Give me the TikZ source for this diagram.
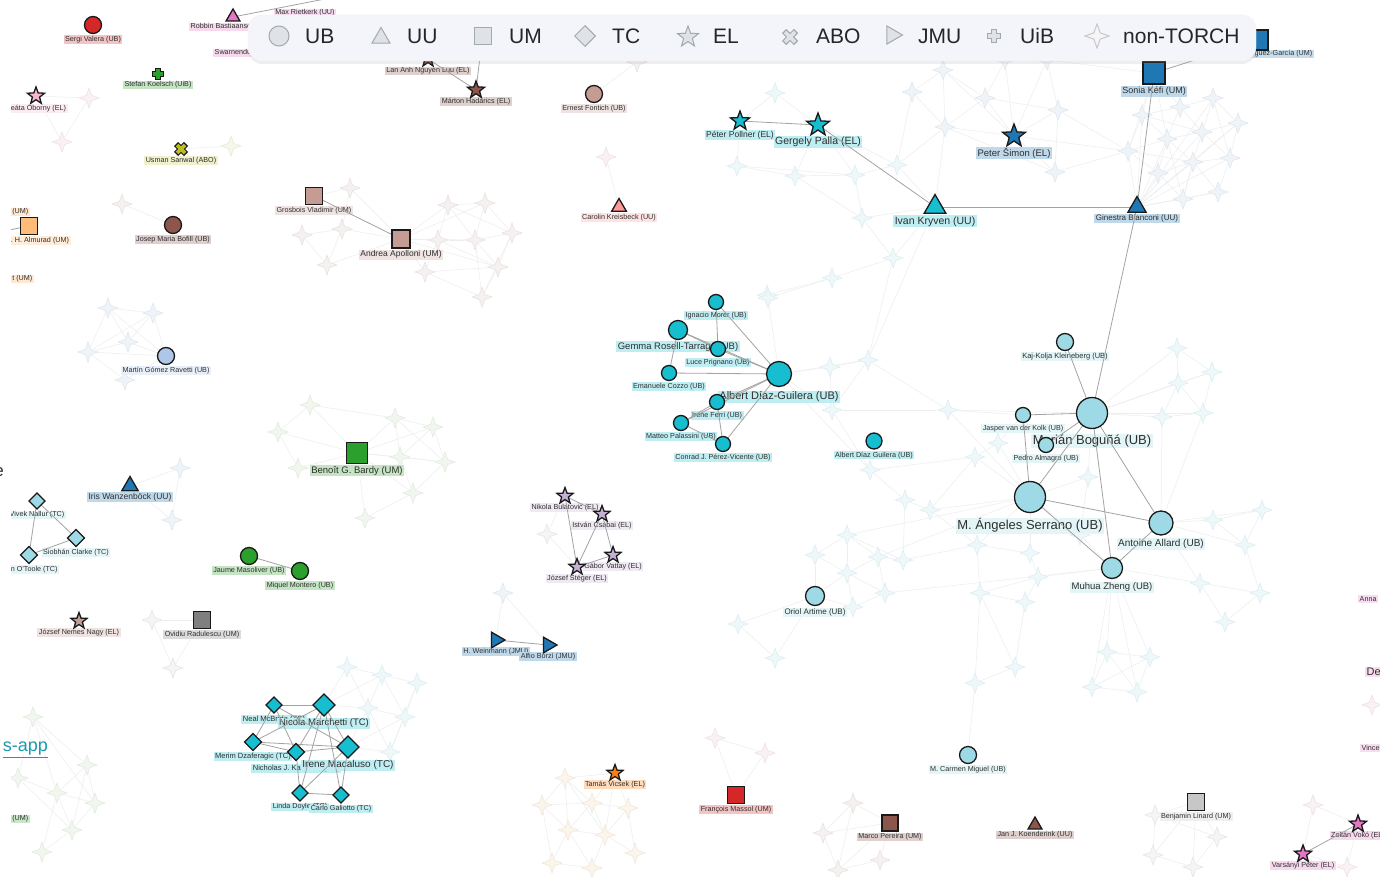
\documentclass[tikz,border=0pt]{standalone}
\usepackage{fontspec}
\setmainfont{Liberation Sans}
\usetikzlibrary{shapes.geometric,shadows}
\definecolor{cTeal}{HTML}{17BECF}
\definecolor{cLTeal}{HTML}{9EDAE5}
\definecolor{cBlue}{HTML}{1F77B4}
\definecolor{cLBlue}{HTML}{AEC7E8}
\definecolor{cGreen}{HTML}{2CA02C}
\definecolor{cRed}{HTML}{D62728}
\definecolor{cSalmon}{HTML}{FF9896}
\definecolor{cBrown}{HTML}{8C564B}
\definecolor{cLBrown}{HTML}{C49C94}
\definecolor{cPink}{HTML}{E377C2}
\definecolor{cLPink}{HTML}{F7B6D2}
\definecolor{cGray}{HTML}{7F7F7F}
\definecolor{cLGray}{HTML}{C7C7C7}
\definecolor{cOlive}{HTML}{BCBD22}
\definecolor{cOrange}{HTML}{FF7F0E}
\definecolor{cLOrange}{HTML}{FFBB78}
\definecolor{cLav}{HTML}{C5B0D5}
\definecolor{legFill}{HTML}{F4F4FB}
\definecolor{legSym}{HTML}{DFE3E6}
\definecolor{legLine}{HTML}{A3A9AD}
\definecolor{edgeC}{HTML}{A3A3A3}
\definecolor{fEdge}{HTML}{ECEDED}
\definecolor{linkC}{HTML}{1B9AAE}
\definecolor{tTf}{HTML}{EEF8FA}\definecolor{tTd}{HTML}{DDEEF1}
\definecolor{tBf}{HTML}{EFF4F9}\definecolor{tBd}{HTML}{E0E7EF}
\definecolor{tGf}{HTML}{F1F7EF}\definecolor{tGd}{HTML}{E1ECDF}
\definecolor{tRf}{HTML}{F5F1F0}\definecolor{tRd}{HTML}{E9E2E0}
\definecolor{tOf}{HTML}{FCF5EC}\definecolor{tOd}{HTML}{F2E7DA}
\definecolor{tPf}{HTML}{FAF1F3}\definecolor{tPd}{HTML}{EFE1E5}
\definecolor{tYf}{HTML}{F6F7EA}\definecolor{tYd}{HTML}{E8EBD6}
\definecolor{tKf}{HTML}{F5F5F5}\definecolor{tKd}{HTML}{E6E6E6}
\pgfdeclarelayer{bg}
\pgfdeclarelayer{fedges}
\pgfdeclarelayer{faint}
\pgfdeclarelayer{labels}
\pgfdeclarelayer{edges}
\pgfdeclarelayer{top}
\pgfsetlayers{bg,fedges,faint,labels,edges,main,top}
\newcommand\fs[1]{\fontsize{#1}{#1}\selectfont}
\newcommand\pp[8][1.5pt]{%
  \node[#4, fill=#5, minimum size=#6pt] (#2) at (#3) {};
  \begin{pgfonlayer}{labels}
    \node[lab, fill=#5!28, font=\fs{#8}, anchor=north] (#2-l) at ([yshift=-#1]#2.south) {#7};
  \end{pgfonlayer}}
\newcommand\ft[3]{\node[nt, #3] (#1) at (#2) {};}
\newcommand\xmk[5]{%
  \node[inner sep=0pt, minimum size=12pt] (#1) at (#2) {};
  \draw[#4, line width=6pt] ([shift={(-#3,-#3)}]#1.center) -- ([shift={(#3,#3)}]#1.center)
        ([shift={(-#3,#3)}]#1.center) -- ([shift={(#3,-#3)}]#1.center);
  \draw[#5, line width=3.6pt] ([shift={(-#3+1pt,-#3+1pt)}]#1.center) -- ([shift={(#3-1pt,#3-1pt)}]#1.center)
        ([shift={(-#3+1pt,#3-1pt)}]#1.center) -- ([shift={(#3-1pt,-#3+1pt)}]#1.center);}
\newcommand\plmk[5]{%
  \node[inner sep=0pt, minimum size=12pt] (#1) at (#2) {};
  \draw[#4, line width=6pt] ([xshift=-#3]#1.center) -- ([xshift=#3]#1.center)
        ([yshift=-#3]#1.center) -- ([yshift=#3]#1.center);
  \draw[#5, line width=3.8pt] ([xshift=-#3+1pt]#1.center) -- ([xshift=#3-1pt]#1.center)
        ([yshift=-#3+1pt]#1.center) -- ([yshift=#3-1pt]#1.center);}
\begin{document}
\begin{tikzpicture}[x=1pt,y=-1pt,
  base/.style={draw=black!90, line width=1.3pt, inner sep=0pt, outer sep=0pt},
  ub/.style={base,circle}, um/.style={base,rectangle}, tc/.style={base,diamond,aspect=1},
  uu/.style={base,regular polygon,regular polygon sides=3},
  jmu/.style={uu,regular polygon rotate=-90},
  el/.style={base,star,star points=5,star point ratio=2.4},
  lab/.style={inner xsep=1.5pt,inner ysep=1pt,text=black!82},
  nt/.style={star,star points=4,star point ratio=2.7,minimum size=20pt,inner sep=0pt,line width=0.6pt},
  tT/.style={fill=tTf,draw=tTd}, tB/.style={fill=tBf,draw=tBd}, tG/.style={fill=tGf,draw=tGd},
  tR/.style={fill=tRf,draw=tRd}, tO/.style={fill=tOf,draw=tOd}, tP/.style={fill=tPf,draw=tPd},
  tY/.style={fill=tYf,draw=tYd}, tK/.style={fill=tKf,draw=tKd},
  ed/.style={draw=edgeC,line width=0.8pt},
  fe/.style={draw=fEdge,line width=0.5pt},
  lsym/.style={draw=legLine,fill=legSym,line width=1pt,inner sep=0pt},
  ltxt/.style={anchor=west,font=\fs{21},text=black!85,inner sep=0pt}]
\clip (0,0) rectangle (1380,877);
\begin{pgfonlayer}{bg}
\fill[white] (0,0) rectangle (1380,877);
\end{pgfonlayer}
% ---------------- main nodes ----------------
\pp{sergi}{93,25}{ub}{cRed}{17}{Sergi Valera (UB)}{7.2}
\node[uu, fill=cPink, minimum size=16pt] (robbin) at (233,17) {};
\coordinate (max) at (330,-2);
\begin{pgfonlayer}{labels}
\node[lab, fill=cPink!28, font=\fs{7.2}, anchor=west] (robbin-l) at (189,27) {Robbin Bastiaansen (UU)};
\node[lab, fill=cPink!28, font=\fs{7.2}] (max-l) at (305,13) {Max Rietkerk (UU)};
\node[lab, fill=cPink!28, font=\fs{7.2}, anchor=west] (swarn-l) at (213,53) {Swarnendu Banerjee (UU)};
\node[lab, fill=cLOrange!35, font=\fs{7.2}, anchor=east] (um1-l) at (30,212) {(UM)};
\node[lab, fill=cLOrange!35, font=\fs{7.2}, anchor=east] (um2-l) at (34,279) {t (UM)};
\node[lab, fill=cGreen!25, font=\fs{7.2}, anchor=east] (um3-l) at (30,819) {(UM)};
\node[lab, fill=cPink!25, font=\fs{7.2}, anchor=west] (anna-l) at (1358,599) {Anna};
\node[lab, fill=cPink!25, font=\fs{11}, anchor=west] (de-l) at (1365,672) {De};
\node[lab, fill=cPink!25, font=\fs{7.2}, anchor=west] (vince-l) at (1360,748) {Vince};
\end{pgfonlayer}
\pp[4pt]{lananh}{428,59}{el}{cBrown}{17}{Lan Anh Nguyen Luu (EL)}{7.2}
\pp[3pt]{marton}{476,90}{el}{cBrown}{18}{Márton Hadarics (EL)}{7.2}
\coordinate (mup) at (482,40);
\plmk{stefan}{158,74}{6pt}{black!90}{cGreen}
\begin{pgfonlayer}{labels}
\node[lab, fill=cGreen!28, font=\fs{7.2}, anchor=north] (stefan-l) at (158,80.5) {Stefan Koelsch (UiB)};
\end{pgfonlayer}
\pp[4pt]{oborny}{36,96}{el}{cLPink}{18}{Beáta Oborny (EL)}{7.2}
\xmk{usman}{181,149}{5pt}{black!90}{cOlive}
\begin{pgfonlayer}{labels}
\node[lab, fill=cOlive!22, font=\fs{7.2}, anchor=north] (usman-l) at (181,156) {Usman Sanwal (ABO)};
\end{pgfonlayer}
\pp{almurad}{29,226}{um}{cLOrange}{17}{Zied M. H. Almurad (UM)}{7.2}
\coordinate (almw) at (-20,236);
\pp{bofill}{173,225}{ub}{cBrown}{17}{Josep Maria Bofill (UB)}{7.2}
\pp{grosbois}{314,196}{um}{cLBrown}{17}{Grosbois Vladimir (UM)}{7.2}
\pp{apolloni}{401,239}{um}{cLBrown}{18}{Andrea Apolloni (UM)}{8.5}
\pp{ernest}{594,94}{ub}{cLBrown}{17}{Ernest Fontich (UB)}{7.2}
\pp{carolin}{619,207}{uu}{cSalmon}{17}{Carolin Kreisbeck (UU)}{7.2}
\pp[4.5pt]{pollner}{740,121}{el}{cTeal}{20}{Péter Pollner (EL)}{8.5}
\pp[6pt]{palla}{818,125}{el}{cTeal}{24}{Gergely Palla (EL)}{10.5}
\pp[2pt]{kryven}{935,207}{uu}{cTeal}{25}{Ivan Kryven (UU)}{10.5}
\pp[5.5pt]{simon}{1014,136}{el}{cBlue}{24}{Peter Šimon (EL)}{9.5}
\pp{bianconi}{1137,207}{uu}{cBlue}{21}{Ginestra Bianconi (UU)}{8}
\pp[2pt]{sonia}{1154,73}{um}{cBlue}{22}{Sonia Kéfi (UM)}{9}
\node[um, fill=cBlue, minimum size=20pt] (rodriguez) at (1258,40) {};
\begin{pgfonlayer}{labels}
\node[lab, fill=cBlue!25, font=\fs{7.2}, anchor=east] (rodriguez-l) at (1314,54) {Rodríguez-García (UM)};
\end{pgfonlayer}
% center UB cluster
\pp{morer}{716,302}{ub}{cTeal}{15}{Ignacio Morer (UB)}{7.2}
\pp{gemma}{678,330}{ub}{cTeal}{19}{Gemma Rosell-Tarragó (UB)}{9.5}
\pp{luce}{718,349}{ub}{cTeal}{15}{Luce Prignano (UB)}{7.2}
\pp{emanuele}{669,373}{ub}{cTeal}{15}{Emanuele Cozzo (UB)}{7.2}
\pp[4pt]{albert}{779,374}{ub}{cTeal}{25}{Albert Díaz-Guilera (UB)}{11}
\pp{irene}{717,402}{ub}{cTeal}{15}{Irene Ferri (UB)}{7.2}
\pp{matteo}{681,423}{ub}{cTeal}{15}{Matteo Palassini (UB)}{7.2}
\pp{conrad}{723,444}{ub}{cTeal}{15}{Conrad J. Pérez-Vicente (UB)}{7.2}
\pp{albertb}{874,441}{ub}{cTeal}{16}{Albert Díaz Guilera (UB)}{7.2}
% Boguna cluster
\pp{kaj}{1065,342}{ub}{cLTeal}{17}{Kaj-Kolja Kleineberg (UB)}{7.5}
\pp[5pt]{boguna}{1092,413}{ub}{cLTeal}{31}{Marián Boguñá (UB)}{13}
\pp{jasper}{1023,415}{ub}{cLTeal}{15}{Jasper van der Kolk (UB)}{7.2}
\pp{pedro}{1046,445}{ub}{cLTeal}{15}{Pedro Almagro (UB)}{7.2}
\pp[5pt]{serrano}{1030,497}{ub}{cLTeal}{31}{M. Ángeles Serrano (UB)}{13}
\pp[3pt]{allard}{1161,523}{ub}{cLTeal}{24}{Antoine Allard (UB)}{10}
\pp[3pt]{muhua}{1112,568}{ub}{cLTeal}{21}{Muhua Zheng (UB)}{9.5}
\pp[2pt]{artime}{815,596}{ub}{cLTeal}{19}{Oriol Artime (UB)}{8}
\pp{carmen}{968,755}{ub}{cLTeal}{17}{M. Carmen Miguel (UB)}{7.2}
% left middle
\pp{ravetti}{166,356}{ub}{cLBlue}{17}{Martín Gómez Ravetti (UB)}{7.2}
\pp{bardy}{357,453}{um}{cGreen}{21}{Benoît G. Bardy (UM)}{9.5}
\pp{iris}{130,486}{uu}{cBlue}{19}{Iris Wanzenböck (UU)}{8.5}
\pp{vivek}{37,501}{tc}{cLTeal}{16}{Vivek Nallur (TC)}{7.2}
\pp{siobhan}{76,538}{tc}{cLTeal}{17}{Siobhán Clarke (TC)}{7.2}
\pp{eoin}{29,555}{tc}{cLTeal}{17}{Eoin O'Toole (TC)}{7.2}
\pp{jaume}{249,556}{ub}{cGreen}{17}{Jaume Masoliver (UB)}{7.2}
\pp{miquel}{300,571}{ub}{cGreen}{17}{Miquel Montero (UB)}{7.2}
\pp[3pt]{nemes}{79,621}{el}{cLBrown}{17}{József Nemes Nagy (EL)}{7.2}
\pp{radulescu}{202,620}{um}{cGray}{17}{Ovidiu Radulescu (UM)}{7.2}
% TC cluster
\pp{neal}{274,705}{tc}{cTeal}{16}{Neal McBride (TC)}{7.5}
\pp{nicola}{324,705}{tc}{cTeal}{22}{Nicola Marchetti (TC)}{9.5}
\pp{merim}{253,742}{tc}{cTeal}{17}{Merim Dzaferagic (TC)}{7.5}
\pp[3pt]{nicholas}{296,752}{tc}{cTeal}{17}{Nicholas J. Kaminski (TC)}{7.5}
\pp{irenem}{348,747}{tc}{cTeal}{22}{Irene Macaluso (TC)}{10}
\pp{linda}{300,793}{tc}{cTeal}{16}{Linda Doyle (TC)}{7.2}
\pp{carlo}{341,795}{tc}{cTeal}{16}{Carlo Galiotto (TC)}{7.2}
% EL lavender
\pp[3pt]{bulatovic}{565,496}{el}{cLav}{17}{Nikola Bulatović (EL)}{7.2}
\pp[3pt]{csabai}{602,514}{el}{cLav}{17}{István Csabai (EL)}{7.2}
\pp[3pt]{vattay}{613,555}{el}{cLav}{17}{Gábor Vattay (EL)}{7.2}
\pp[3pt]{steger}{577,567}{el}{cLav}{17}{József Stéger (EL)}{7.2}
\pp{weinmann}{496,640}{jmu}{cBlue}{18}{H. Weinmann (JMU)}{7.2}
\pp{borzi}{548,645}{jmu}{cBlue}{18}{Alfio Borzì (JMU)}{7.2}
% bottom
\pp[3pt]{vicsek}{615,773}{el}{cOrange}{17}{Tamás Vicsek (EL)}{7.2}
\pp{massol}{736,795}{um}{cRed}{17}{François Massol (UM)}{7.2}
\pp{pereira}{890,823}{um}{cBrown}{16}{Marco Pereira (UM)}{7.2}
\pp{koenderink}{1035,825}{uu}{cBrown}{16}{Jan J. Koenderink (UU)}{7.2}
\pp{linard}{1196,802}{um}{cLGray}{17}{Benjamin Linard (UM)}{7.2}
\pp[3pt]{voko}{1358,824}{el}{cPink}{18}{Zoltán Vokó (EL)}{7.2}
\pp[3pt]{varsanyi}{1303,854}{el}{cPink}{18}{Varsányi Péter (EL)}{7.2}
% ---------------- faint non-TORCH nodes ----------------
\begin{pgfonlayer}{faint}
\ft{a1}{89,98}{tP}\ft{a2}{62,142}{tP}
\ft{u1}{231,146}{tY}
\ft{b1}{122,204}{tR}
\ft{e1}{637,62}{tR}
\ft{c1}{606,157}{tP}
\ft{p1}{350,188}{tR}\ft{p2}{302,235}{tR}\ft{p3}{342,229}{tR}\ft{p4}{327,265}{tR}
\ft{p5}{448,205}{tR}\ft{p6}{438,240}{tR}\ft{p7}{425,272}{tR}\ft{p8}{485,203}{tR}
\ft{p9}{475,240}{tR}\ft{p10}{512,233}{tR}\ft{p11}{498,267}{tR}\ft{p12}{482,297}{tR}
\ft{t1}{775,93}{tT}\ft{t2}{912,92}{tB}\ft{t3}{737,166}{tT}\ft{t4}{795,176}{tT}
\ft{t5}{855,175}{tT}\ft{t6}{897,165}{tT}\ft{t7}{862,218}{tT}\ft{t8}{893,258}{tT}
\ft{t9}{832,278}{tT}\ft{t10}{767,295}{tT}
\ft{s1}{943,70}{tB}\ft{s2}{985,98}{tB}\ft{s3}{1058,110}{tB}\ft{s4}{945,127}{tB}
\ft{s5}{1055,172}{tB}\ft{s6}{1005,60}{tB}\ft{s7}{1047,60}{tB}
\ft{r1}{1142,115}{tB}\ft{r2}{1180,107}{tB}\ft{r3}{1213,98}{tB}\ft{r4}{1238,123}{tB}
\ft{r5}{1202,132}{tB}\ft{r6}{1167,139}{tB}\ft{r7}{1128,151}{tB}\ft{r8}{1193,162}{tB}
\ft{r9}{1230,158}{tB}\ft{r10}{1158,173}{tB}\ft{r11}{1183,199}{tB}\ft{r12}{1218,192}{tB}
\ft{q1}{768,298}{tT}\ft{q2}{830,367}{tT}\ft{q3}{868,360}{tT}\ft{q4}{832,410}{tT}\ft{q5}{948,410}{tT}
\ft{g2}{1177,348}{tT}\ft{g3}{1212,372}{tT}\ft{g4}{1178,383}{tT}\ft{g5}{1203,413}{tT}
\ft{g6}{1162,417}{tT}\ft{g7}{975,457}{tT}\ft{g8}{998,443}{tT}\ft{g9}{1088,477}{tT}
\ft{g10}{930,510}{tT}\ft{g11}{977,545}{tT}\ft{g12}{1030,553}{tT}\ft{g13}{1080,535}{tT}
\ft{g14}{1213,520}{tT}\ft{g15}{1200,583}{tT}\ft{g16}{980,593}{tT}\ft{g17}{1038,577}{tT}
\ft{g18}{1262,510}{tT}\ft{g19}{1245,545}{tT}\ft{g20}{1260,593}{tT}\ft{g21}{1225,622}{tT}
\ft{g22}{1025,602}{tT}\ft{g23}{905,500}{tT}\ft{g24}{903,560}{tT}\ft{g25}{870,470}{tT}
\ft{o1}{847,535}{tT}\ft{o2}{815,555}{tT}\ft{o3}{878,557}{tT}\ft{o4}{847,573}{tT}
\ft{o5}{885,593}{tT}\ft{o6}{853,607}{tT}\ft{o7}{738,624}{tT}\ft{o8}{775,658}{tT}
\ft{m3}{1015,667}{tT}\ft{m4}{975,683}{tT}\ft{m5}{1107,652}{tT}\ft{m6}{1150,657}{tT}
\ft{m7}{1092,687}{tT}\ft{m8}{1137,692}{tT}
\ft{v1}{547,534}{tK}
\ft{w1}{503,593}{tB}
\ft{h1}{565,778}{tO}\ft{h2}{542,805}{tO}\ft{h3}{592,803}{tO}\ft{h4}{628,808}{tO}
\ft{h5}{568,830}{tO}\ft{h6}{605,835}{tO}\ft{h7}{635,853}{tO}\ft{h8}{552,863}{tO}\ft{h9}{592,868}{tO}
\ft{k1}{715,738}{tP}\ft{k2}{765,753}{tP}
\ft{i1}{853,803}{tR}\ft{i2}{823,833}{tR}\ft{i3}{880,860}{tR}\ft{i4}{838,870}{tR}
\ft{l1}{1155,815}{tK}\ft{l2}{1217,837}{tK}\ft{l3}{1153,855}{tK}\ft{l4}{1193,867}{tK}
\ft{z1}{1313,805}{tP}\ft{z2}{1347,867}{tP}\ft{zr}{1372,705}{tP}
\ft{y1}{108,308}{tB}\ft{y2}{153,313}{tB}\ft{y3}{128,342}{tB}\ft{y4}{88,352}{tB}\ft{y5}{125,380}{tB}
\ft{x1}{310,405}{tG}\ft{x2}{278,432}{tG}\ft{x3}{298,468}{tG}\ft{x4}{395,418}{tG}\ft{x5}{433,427}{tG}
\ft{x6}{400,457}{tG}\ft{x7}{445,462}{tG}\ft{x8}{413,493}{tG}\ft{x9}{365,518}{tG}
\ft{j1}{180,468}{tB}\ft{j2}{172,520}{tB}
\ft{d1}{152,620}{tK}\ft{d2}{173,668}{tK}
\ft{n1}{347,667}{tT}\ft{n2}{382,675}{tT}\ft{n3}{417,683}{tT}\ft{n4}{368,708}{tT}\ft{n5}{405,717}{tT}\ft{n6}{390,752}{tT}
\ft{bl1}{33,717}{tG}\ft{bl2}{87,765}{tG}\ft{bl3}{18,778}{tG}\ft{bl4}{57,793}{tG}\ft{bl5}{95,803}{tG}\ft{bl6}{72,830}{tG}\ft{bl7}{42,852}{tG}
\end{pgfonlayer}
% ---------------- faint edges ----------------
\begin{pgfonlayer}{fedges}
\foreach \a/\b in {oborny/a1,oborny/a2,a1/a2,usman/u1,bofill/b1,ernest/e1,carolin/c1,
 grosbois/p1,p1/p3,p2/p3,p3/apolloni,p2/p4,p3/p4,p4/apolloni,p1/apolloni,apolloni/p5,apolloni/p6,apolloni/p7,
 apolloni/p9,apolloni/p8,apolloni/p11,p5/p8,p5/p6,p6/p9,p8/p10,p9/p10,p9/p11,p10/p11,p6/p7,p7/p11,p11/p12,
 p8/p9,p5/p10,p6/p11,p7/p12,p5/p9,p10/p12,p9/p12,
 pollner/t3,pollner/t1,palla/t1,palla/t4,palla/t5,palla/t6,t3/t4,t4/t5,t5/t6,t3/t5,t5/t7,t6/t2,kryven/t7,
 kryven/t6,kryven/t8,t7/t8,t8/t9,t9/t10,t4/t7,kryven/s4,t6/s4,simon/s1,simon/s2,simon/s3,simon/s4,simon/s5,
 simon/s6,simon/s7,simon/r7,s1/s2,s1/s4,s2/s6,s3/s7,s2/s3,s3/s5,s4/s5,s5/r7,s3/r7,s2/s4,t2/s1,t2/s4}
 \draw[fe] (\a) -- (\b);
\foreach \a/\b in {bianconi/r1,bianconi/r5,bianconi/r6,bianconi/r7,bianconi/r8,bianconi/r9,bianconi/r10,
 bianconi/r11,bianconi/r12,bianconi/r4,bianconi/r3,r1/r2,r2/r3,r3/r4,r4/r9,r9/r12,r12/r11,r11/r10,r10/r7,r7/r1,
 r5/r6,r5/r8,r6/r8,r1/r6,r2/r5,r3/r5,r4/r5,r8/r9,r8/r11,r10/r6,r6/r7,r5/r9,r8/r12,r2/r6,r1/r5,r4/r8,r10/r8,
 r3/r9,r7/r8,r11/r8,r6/r11,sonia/r1,sonia/r2,sonia/r7,sonia/r6,sonia/s7,
 albert/q1,albert/q2,albert/q3,albert/q4,q2/q3,q3/q5,q4/q5,q2/q4,q1/t10,q3/t8,q3/kryven,q1/t9,q5/jasper,
 q5/boguna,q5/serrano,q4/g25,albert/g25,q3/q4}
 \draw[fe] (\a) -- (\b);
\foreach \a/\b in {boguna/g2,boguna/g4,boguna/g5,boguna/g6,g2/g3,g3/g4,g4/g5,g5/g6,g2/g4,g3/g5,g6/g4,
 serrano/g7,serrano/g8,serrano/g10,serrano/g11,serrano/g12,serrano/g13,boguna/g9,serrano/g9,g9/g13,
 allard/g14,allard/g15,allard/g18,allard/g19,allard/g6,allard/g5,g14/g18,g18/g19,g19/g20,g15/g20,g15/g21,
 g20/g21,g14/g19,muhua/g17,muhua/g15,muhua/g13,g16/g11,g16/g22,g22/g17,g12/g17,g10/g23,g23/g24,g24/g11,
 g25/g23,g7/g8,g8/jasper,g7/g10,g11/g12,g16/g17,g10/g11,g7/g25,boguna/g3,
 artime/o2,artime/o4,artime/o6,artime/o7,artime/o8,o7/o8,o1/o2,o1/o3,o2/o4,o3/o4,o3/o5,o4/o5,o5/o6,o1/o4,
 o3/g24,o1/g24,o3/serrano,o1/serrano,o5/muhua,o6/o4,
 carmen/m4,m4/m3,m3/g22,m4/g16,m3/g16,m5/m6,m5/m7,m6/m8,m7/m8,m5/m8,m6/m7,muhua/m5,muhua/m6,muhua/m7,muhua/m8}
 \draw[fe] (\a) -- (\b);
\foreach \a/\b in {bulatovic/v1,steger/v1,weinmann/w1,borzi/w1,
 vicsek/h1,vicsek/h3,vicsek/h4,vicsek/h6,h1/h2,h1/h3,h1/h5,h2/h5,h2/h8,h3/h5,h3/h6,h4/h6,h4/h7,h5/h6,h5/h8,
 h6/h7,h6/h9,h8/h9,h2/h3,h3/h4,h5/h9,h1/h6,
 massol/k1,massol/k2,k1/k2,pereira/i1,pereira/i2,pereira/i3,i1/i2,i2/i4,i1/i4,i3/i4,pereira/i4,
 linard/l1,linard/l2,linard/l3,linard/l4,l1/l3,l3/l4,l2/l4,l1/l2,
 voko/z1,varsanyi/z1,voko/z2,varsanyi/z2,
 ravetti/y2,ravetti/y3,ravetti/y1,ravetti/y4,ravetti/y5,y1/y2,y1/y3,y1/y4,y2/y3,y3/y4,y4/y5,y2/y4,
 bardy/x1,bardy/x2,bardy/x3,bardy/x4,bardy/x5,bardy/x6,bardy/x7,bardy/x8,bardy/x9,x1/x2,x2/x3,x4/x5,x5/x7,
 x4/x6,x6/x7,x6/x8,x7/x8,x8/x9,x4/x7,x5/x6,x1/x4,
 iris/j1,j1/j2,iris/j2,radulescu/d1,radulescu/d2,d1/d2,
 n1/n2,n2/n3,n1/n4,n2/n4,n2/n5,n3/n5,n4/n5,n5/n6,n4/n6,nicola/n1,nicola/n4,irenem/n6,irenem/n4,n3/n6,
 irenem/n5,nicola/n2,
 bl1/bl2,bl1/bl3,bl1/bl4,bl2/bl4,bl2/bl5,bl3/bl4,bl4/bl5,bl4/bl6,bl5/bl6,bl6/bl7,bl4/bl7,bl3/bl6,bl2/bl6,bl1/bl5}
 \draw[fe] (\a) -- (\b);
\end{pgfonlayer}
% ---------------- main edges ----------------
\begin{pgfonlayer}{edges}
\foreach \a/\b in {robbin/max,lananh/marton,marton/mup,almurad/almw,grosbois/apolloni,pollner/palla,
 palla/kryven,kryven/bianconi,sonia/bianconi,bianconi/boguna,sonia/rodriguez,
 morer/luce,morer/albert,gemma/luce,gemma/albert,gemma/emanuele,luce/albert,emanuele/albert,irene/albert,
 matteo/albert,irene/matteo,matteo/conrad,irene/conrad,conrad/albert,
 kaj/boguna,jasper/boguna,jasper/serrano,pedro/boguna,boguna/serrano,boguna/allard,boguna/muhua,
 serrano/allard,serrano/muhua,muhua/allard,
 vivek/siobhan,vivek/eoin,siobhan/eoin,jaume/miquel,
 neal/nicola,neal/merim,neal/nicholas,neal/irenem,nicola/merim,nicola/nicholas,nicola/irenem,nicola/linda,
 nicola/carlo,merim/nicholas,merim/irenem,nicholas/irenem,nicholas/linda,irenem/linda,irenem/carlo,linda/carlo,
 bulatovic/csabai,bulatovic/steger,csabai/steger,csabai/vattay,steger/vattay,
 weinmann/borzi,voko/varsanyi}
 \draw[ed] (\a) -- (\b);
\end{pgfonlayer}
% ---------------- top: mask, link text, legend ----------------
\begin{pgfonlayer}{top}
\fill[white] (-2,-2) rectangle (11,879);
\node[anchor=east, font=\fs{18}, text=linkC, inner sep=0pt] (sapp) at (48,750) {\underline{s-app}};
\node[anchor=east, font=\fs{17}, text=black!80, inner sep=0pt] (frag) at (4,472) {e};
\node[fill=legFill, draw=black!5, rounded corners=14pt, minimum width=1008pt, minimum height=46pt,
  inner sep=0pt, drop shadow={shadow xshift=0pt, shadow yshift=-3pt, opacity=0.13}] (legend) at (752,38) {};
\node[lsym, circle, minimum size=20pt] (lg-ub) at (279,36) {};
\node[ltxt] (lt-ub) at (305,36) {UB};
\node[lsym, regular polygon, regular polygon sides=3, minimum size=21pt] (lg-uu) at (381,38) {};
\node[ltxt] (lt-uu) at (407,36) {UU};
\node[lsym, rectangle, minimum size=17pt] (lg-um) at (483,36) {};
\node[ltxt] (lt-um) at (509,36) {UM};
\node[lsym, diamond, aspect=1, minimum size=21pt] (lg-tc) at (585,36) {};
\node[ltxt] (lt-tc) at (612,36) {TC};
\node[lsym, star, star points=5, star point ratio=2.4, minimum size=22pt] (lg-el) at (688,37) {};
\node[ltxt] (lt-el) at (713,36) {EL};
\xmk{lg-abo}{790,37}{6pt}{legLine}{legSym}
\node[ltxt] (lt-abo) at (816,36) {ABO};
\node[lsym, regular polygon, regular polygon sides=3, regular polygon rotate=-90, minimum size=21pt] (lg-jmu) at (892,35) {};
\node[ltxt] (lt-jmu) at (918,36) {JMU};
\plmk{lg-uib}{994,36}{7pt}{legLine}{legSym}
\node[ltxt] (lt-uib) at (1020,36) {UiB};
\node[lsym, star, star points=4, star point ratio=2.7, minimum size=24pt, draw=black!22, fill=black!4] (lg-nt) at (1097,36) {};
\node[ltxt] (lt-nt) at (1123,36) {non-TORCH};
\end{pgfonlayer}
\end{tikzpicture}
\end{document}
